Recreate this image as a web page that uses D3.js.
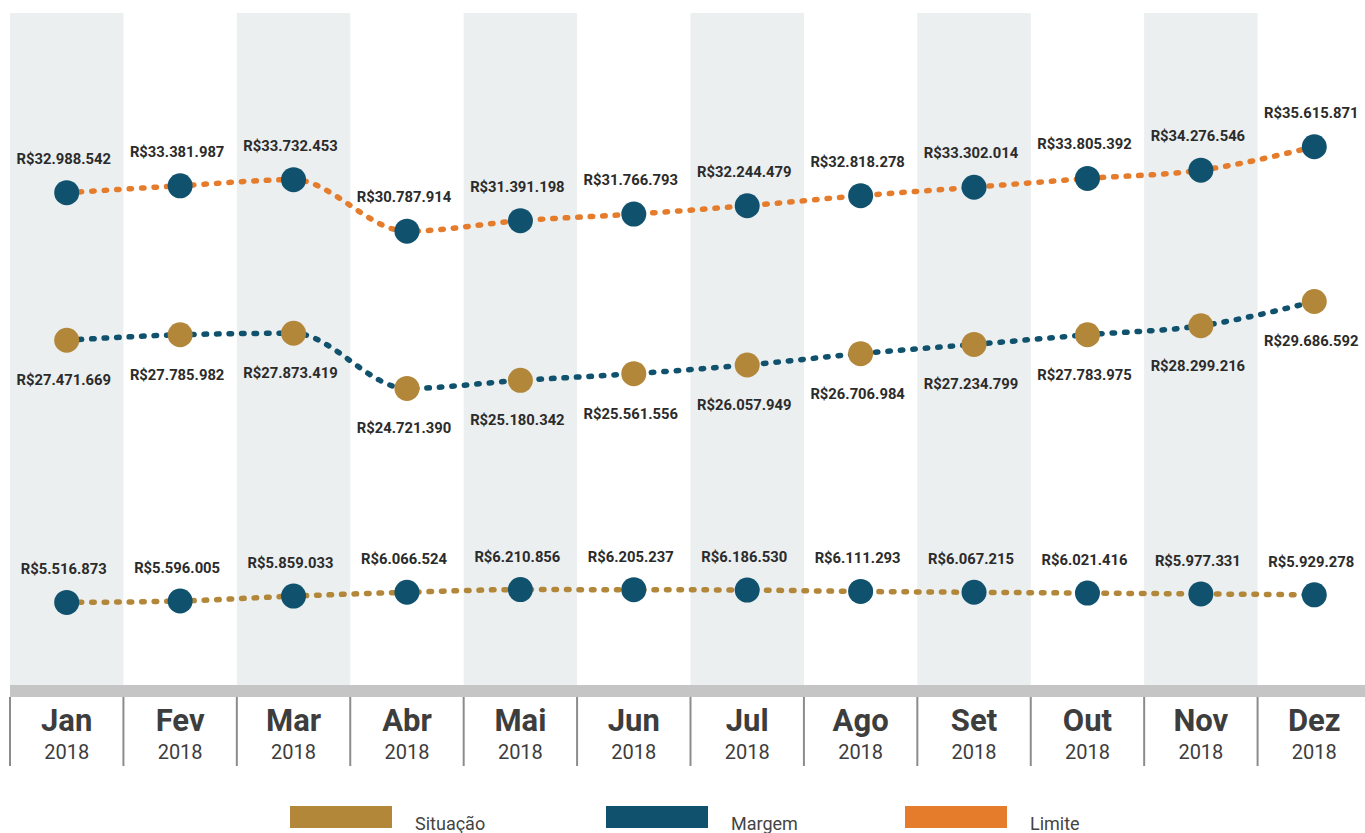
<!DOCTYPE html>
<meta charset="utf-8">
<style>
body { margin: 0; background: #fff; }
svg { display: block; }
.valor { font-family: Roboto, "Noto Sans", sans-serif; font-weight: 700; font-size: 14.8px; fill: #2b2b2b; }
.mes { font-family: Roboto, sans-serif; font-weight: 700; font-size: 31px; fill: #3d3d3d; }
.ano { font-family: Roboto, sans-serif; font-size: 20px; fill: #3d3d3d; }
.legenda text { font-family: Roboto, sans-serif; font-size: 18px; fill: #444; }
</style>
<svg width="1365" height="833"></svg>
<script src="https://d3js.org/d3.v7.min.js"></script>
<script>

// dados
var meses = ["Jan","Fev","Mar","Abr","Mai","Jun","Jul","Ago","Set","Out","Nov","Dez"];
var anos = ["2018","2018","2018","2018","2018","2018","2018","2018","2018","2018","2018","2018"];
var limite = [32988542, 33381987, 33732453, 30787914, 31391198, 31766793, 32244479, 32818278, 33302014, 33805392, 34276546, 35615871];
var margem = [27471669, 27785982, 27873419, 24721390, 25180342, 25561556, 26057949, 26706984, 27234799, 27783975, 28299216, 29686592];
var situacao = [5516873, 5596005, 5859033, 6066524, 6210856, 6205237, 6186530, 6111293, 6067215, 6021416, 5977331, 5929278];
var legendaNomes = ["Situação", "Margem", "Limite"];

var cores = {ouro: "#b3873a", azul: "#10526e", laranja: "#e57c2c"};

var svg = d3.select("svg");

var br = d3.formatLocale({decimal: ",", thousands: ".", grouping: [3], currency: ["R$", ""]});
var fmt = br.format("$,.0f");

var x = d3.scaleBand().domain(meses).range([10, 1371]).padding(0);

// cada série tem sua própria faixa vertical (mesma proporção px/valor)
var series = [
  {valores: limite, linha: cores.laranja, ponto: cores.azul,
   y: d3.scaleLinear().domain([30e6, 36e6]).range([245, 140]), dy: -29},
  {valores: margem, linha: cores.azul, ponto: cores.ouro,
   y: d3.scaleLinear().domain([24e6, 30e6]).range([401, 296]), dy: 45},
  {valores: situacao, linha: cores.ouro, ponto: cores.azul,
   y: d3.scaleLinear().domain([5e6, 7e6]).range([612, 575]), dy: -28}
];

// faixas cinza alternadas
svg.append("g").selectAll("rect")
  .data(meses.filter((d, i) => i % 2 == 0))
  .enter().append("rect")
    .attr("x", d => x(d))
    .attr("y", 13)
    .attr("width", x.bandwidth())
    .attr("height", 672)
    .attr("fill", "#ebeff0");

// eixo
svg.append("rect").attr("x", 10).attr("y", 685).attr("width", 1355).attr("height", 12).attr("fill", "#c4c5c4");

var eixo = svg.append("g").selectAll("g").data(meses).enter().append("g")
  .attr("transform", d => "translate(" + x(d) + ",0)");
eixo.append("line")
  .attr("x1", 0).attr("x2", 0).attr("y1", 697).attr("y2", 766)
  .attr("stroke", "#8c8c8c").attr("stroke-width", 2);
eixo.append("text").attr("class", "mes")
  .attr("x", x.bandwidth() / 2).attr("y", 731)
  .attr("text-anchor", "middle").text(d => d);
eixo.append("text").attr("class", "ano")
  .attr("x", x.bandwidth() / 2).attr("y", 759)
  .attr("text-anchor", "middle").text((d, i) => anos[i]);

var cx = d => x(d) + x.bandwidth() / 2;

series.forEach(function(s) {
  var linha = d3.line()
    .x((v, i) => cx(meses[i]))
    .y(v => s.y(v))
    .curve(d3.curveMonotoneX);

  svg.append("path")
    .attr("d", linha(s.valores))
    .attr("fill", "none")
    .attr("stroke", s.linha)
    .attr("stroke-width", 5.5)
    .attr("stroke-linecap", "round")
    .attr("stroke-dasharray", "2.5 10");

  var g = svg.append("g");
  g.selectAll("circle").data(s.valores).enter().append("circle")
    .attr("cx", (v, i) => cx(meses[i]))
    .attr("cy", v => s.y(v))
    .attr("r", 12.5)
    .attr("fill", s.ponto);

  g.selectAll("text").data(s.valores).enter().append("text")
    .attr("class", "valor")
    .attr("x", (v, i) => cx(meses[i]) - 3)
    .attr("y", v => s.y(v) + s.dy)
    .attr("text-anchor", "middle")
    .text(v => fmt(v));
});

// legenda
var legX = [290, 606, 905];
var legCores = [cores.ouro, cores.azul, cores.laranja];
var leg = svg.append("g").attr("class", "legenda").selectAll("g")
  .data(legendaNomes).enter().append("g")
  .attr("transform", (d, i) => "translate(" + legX[i] + ",806)");
leg.append("rect").attr("width", 102).attr("height", 22).attr("fill", (d, i) => legCores[i]);
leg.append("text").attr("x", 125).attr("y", 24).text(d => d);

</script>
